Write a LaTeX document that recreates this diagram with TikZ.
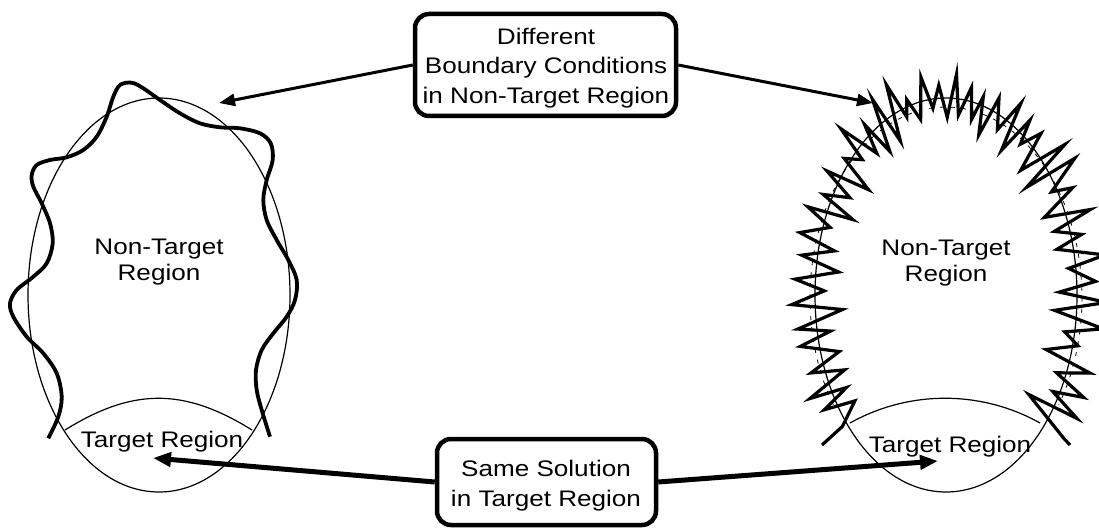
\documentclass[tikz,border=0pt]{standalone}
\usepackage{fontspec}
\setmainfont{Liberation Sans}[FakeStretch=1.16]
\usetikzlibrary{arrows.meta}
\begin{document}
\begin{tikzpicture}[x=1pt,y=-1pt,
  thinline/.style={line width=1.2pt},
  wave/.style={line width=3.8pt, line join=round},
  zig/.style={line width=3.2pt, line join=miter, miter limit=14},
  dashline/.style={line width=0.8pt, dash pattern=on 4pt off 7pt},
  box/.style={draw, line width=4.5pt, rounded corners=14pt, inner sep=0pt},
  lbl/.style={align=center, font=\fontsize{22.5}{26.7}\selectfont, inner sep=0pt},
  boxtext/.style={align=center, font=\fontsize{22.5}{29.5}\selectfont, inner sep=0pt},
  toparrow/.style={line width=3pt, -{Triangle[length=16pt,width=12pt]}},
  botarrow/.style={line width=5pt, -{Triangle[length=18pt,width=14pt]}},
]
\useasboundingbox (0,0) rectangle (1099,529);

% left domain
\draw[thinline] (159,295) ellipse [x radius=131pt, y radius=197pt];
\draw[thinline] (65,430) .. controls (133,387.7) and (184,387.7) .. (252,430);
\draw[wave] plot[smooth, tension=0.55] coordinates {
 (48.3,438.3) (58.3,416.7) (61.7,396.7) (56.7,373.3) (43.3,353.3) (26.7,336.7)
 (13.3,316.7) (10,303.3) (16.7,290) (33.3,276.7) (46.7,263.3) (52.7,243.3)
 (50,223.3) (41.7,203.3) (33.3,186.7) (31.7,175) (36.7,165) (50,160)
 (66.7,157.3) (83.3,150) (96.7,136.7) (106.7,116.7) (113.3,96.7) (120,85)
 (131.7,82.7) (143.3,88.3) (160,100) (180,113.3) (200,123.3) (220,127.3)
 (240,128.3) (260,133.3) (270.7,143.3) (272.7,160) (266.7,180) (263.3,200)
 (266.7,220) (276.7,240) (288.3,260) (296.7,280) (295,300) (286.7,316.7)
 (273.3,333.3) (261.7,350) (256,370) (256.7,390) (261.7,410) (270,436.7)};
\node[lbl] (lnt) at (159,262) {Non-Target\\Region};
\node[lbl, anchor=base] (ltr) at (162,447) {Target Region};

% right domain
\draw[thinline] (946,295) ellipse [x radius=131pt, y radius=197pt];
\draw[thinline] (850,423) .. controls (909,390) and (981,390) .. (1040,423);
\draw[dashline] plot[domain=214:-34, samples=90, variable=\a] ({946+136*cos(\a)}, {298-191*sin(\a)});
\coordinate (zs) at (822,445);
\coordinate (ze) at (1070,445);
\pgfmathsetseed{31}
\foreach \i in {0,...,82} {
  \pgfmathsetmacro{\sg}{1-2*mod(\i,2)}
  \pgfmathsetmacro{\ang}{220-\i*3.17+0.9*rand}
  \pgfmathsetmacro{\amp}{\sg*(7+24*rnd)+3*rand}
  \coordinate (z\i) at ({946+(131+\amp)*cos(\ang)}, {295-(197+\amp)*sin(\ang)});
}
\draw[zig] (zs) \foreach \i in {0,...,82} { -- (z\i) } -- (ze);
\node[lbl] (rnt) at (946,263) {Non-Target\\Region};
\node[lbl, anchor=base] (rtr) at (950,452) {Target Region};

% top box
\node[box, minimum width=261pt, minimum height=102pt] (topbox) at (545.5,65) {};
\node[boxtext] (toptext) at (546,68) {Different\\Boundary Conditions\\in Non-Target Region};
\coordinate (tl) at (219,103);
\coordinate (tr) at (873,103);
\draw[toparrow] (topbox.west) -- (tl);
\draw[toparrow] (topbox.east) -- (tr);

% bottom box
\node[box, minimum width=219pt, minimum height=86pt] (botbox) at (546.5,482) {};
\node[boxtext] (bottext) at (546,485.5) {Same Solution\\in Target Region};
\coordinate (bl) at (153,458);
\coordinate (br) at (938,461);
\draw[botarrow] (botbox.west) -- (bl);
\draw[botarrow] (botbox.east) -- (br);
\end{tikzpicture}
\end{document}
